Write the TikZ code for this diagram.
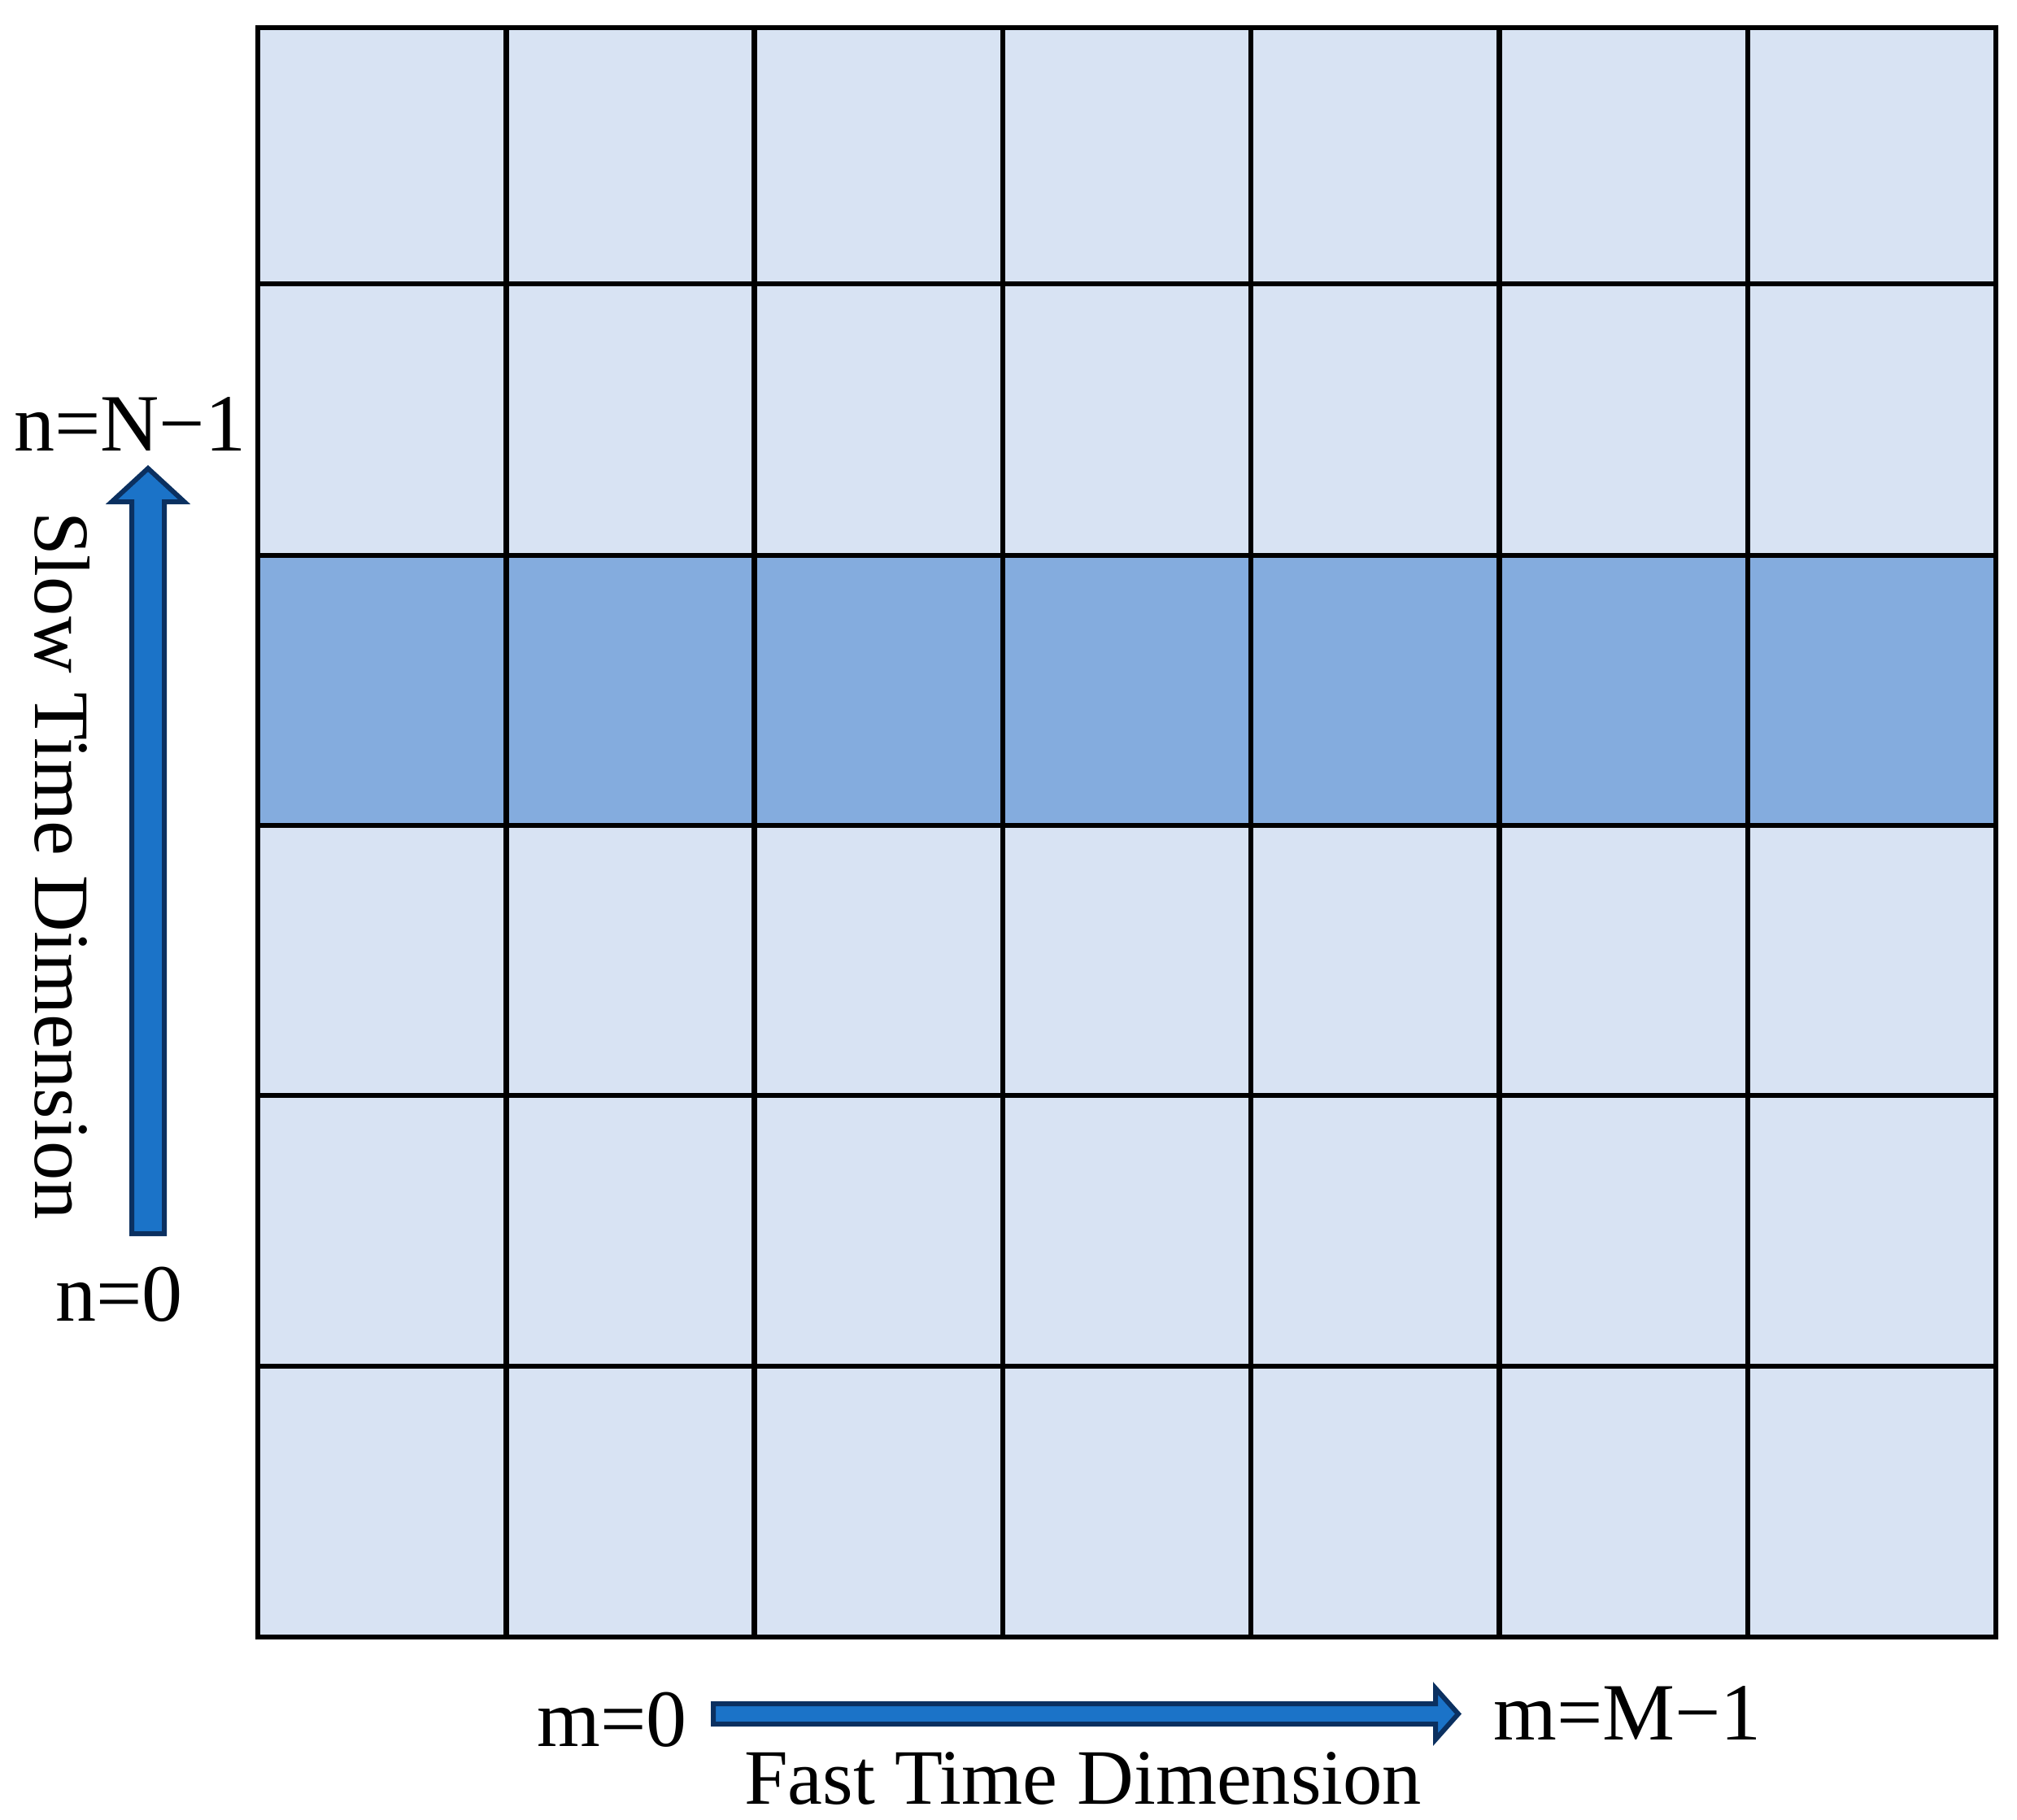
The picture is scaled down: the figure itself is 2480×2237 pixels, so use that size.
\documentclass[tikz,border=0pt]{standalone}
\usepackage{fontspec}
\setmainfont{Liberation Serif}
\usetikzlibrary{calc}
\definecolor{cellLight}{HTML}{D8E3F3}
\definecolor{cellDark}{HTML}{84ACDE}
\definecolor{arrFill}{HTML}{1B73C8}
\definecolor{arrLine}{HTML}{0B3060}
\begin{document}
\begin{tikzpicture}[x=1pt,y=-1pt,
  cellbox/.style={draw=black, line width=6.5pt, inner sep=0pt, outer sep=0pt,
    anchor=north west, minimum width=305.3pt, line join=miter},
  lbl/.style={inner sep=0pt, font=\fontsize{100}{120}\selectfont},
  dimlbl/.style={inner sep=0pt, font=\fontsize{96.5}{116}\selectfont},
  blockarrow/.style={fill=arrFill, draw=arrLine, line width=6pt, line join=miter, miter limit=10}]
\useasboundingbox (0,0) rectangle (2480,2237);

% grid of cells
\foreach \r/\top/\h/\col in {1/34/315/cellLight, 2/349/334/cellLight, 3/683/332/cellDark,
    4/1015/332/cellLight, 5/1347/333/cellLight, 6/1680/333/cellLight} {
  \foreach \c in {0,...,6} {
    \node[cellbox, fill=\col, minimum height=\h pt] (cell-\r-\c) at ({317+305.3*\c},\top) {};
  }
}

% labels
\node[lbl, anchor=base west] (nN1) at (17,554) {n=N−1};
\node[lbl, anchor=base west] (n0) at (68,1624) {n=0};
\node[lbl, anchor=base west] (m0) at (660,2147) {m=0};
\node[lbl, anchor=base west] (mM1) at (1836,2139) {m=M−1};
\node[dimlbl, anchor=base west] (fast) at (915,2218) {Fast Time Dimension};
\node[dimlbl, anchor=base, rotate=-90] (slow) at (43,1064.5) {Slow Time Dimension};

% vertical block arrow (slow time)
\coordinate (vaB) at (182,1517);
\coordinate (vaT) at (182,576);
\draw[blockarrow] ($(vaB)+(-20,0)$) -- ($(vaT)+(-20,41)$) -- ($(vaT)+(-44.5,41)$) -- (vaT)
  -- ($(vaT)+(44.5,41)$) -- ($(vaT)+(20,41)$) -- ($(vaB)+(20,0)$) -- cycle;

% horizontal block arrow (fast time)
\coordinate (haL) at (877,2107.5);
\coordinate (haR) at (1793,2107.5);
\draw[blockarrow] ($(haL)+(0,-12.5)$) -- ($(haR)+(-28,-12.5)$) -- ($(haR)+(-28,-31.5)$) -- (haR)
  -- ($(haR)+(-28,31.5)$) -- ($(haR)+(-28,12.5)$) -- ($(haL)+(0,12.5)$) -- cycle;
\end{tikzpicture}
\end{document}
